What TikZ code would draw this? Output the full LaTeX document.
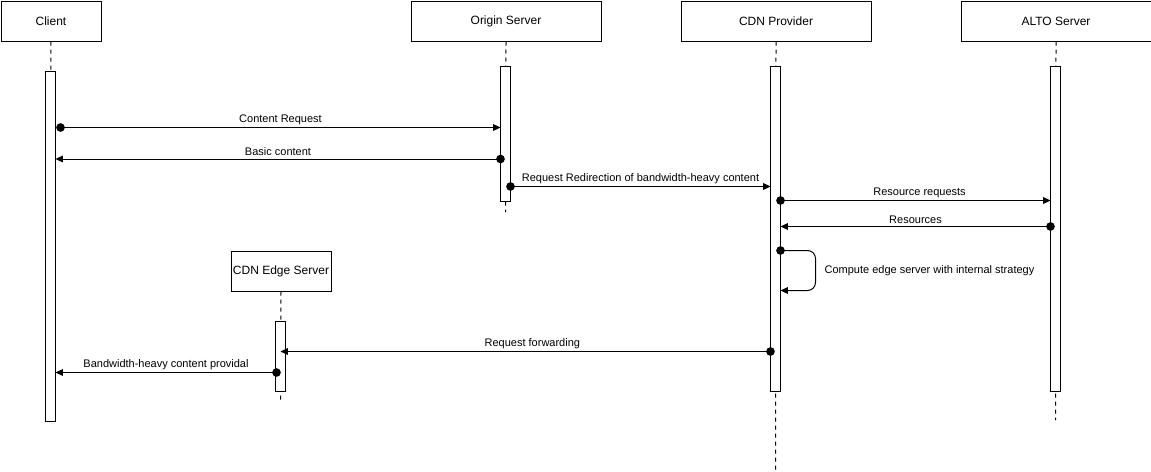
\documentclass[tikz,border=0pt]{standalone}
\usepackage{fontspec}
\setmainfont{Liberation Sans}
\usetikzlibrary{arrows.meta}
\begin{document}
\begin{tikzpicture}[x=0.75pt,y=-0.75pt,
  actor/.style={draw,line width=0.75pt,minimum width=#1*0.75pt,minimum height=30pt,inner sep=0pt,font=\fontsize{9}{10}\selectfont},
  bar/.style={draw,fill=white,line width=0.75pt,inner sep=0pt,minimum width=7.5pt},
  life/.style={line width=0.75pt,dash pattern=on 3pt off 3pt},
  msg/.style={line width=0.75pt,-{Triangle[length=5.5pt,width=5pt]}},
  dotn/.style={circle,fill,inner sep=0pt,minimum size=6.5pt},
  lbl/.style={font=\fontsize{8.25}{9}\selectfont,inner sep=1pt}]
\useasboundingbox (0,0) rectangle (1151,471);

% participant heads
\node[actor=100,anchor=north west] (client) at (0.5,0.5) {Client};
\node[actor=190,anchor=north west] (origin) at (410.5,0.5) {Origin Server};
\node[actor=190,anchor=north west] (cdn) at (680.5,0.5) {CDN Provider};
\node[actor=190,anchor=north west] (alto) at (960.5,0.5) {ALTO Server};
\node[actor=100,anchor=north west] (edge) at (230.5,250.5) {CDN Edge Server};

% lifelines
\coordinate (clientEnd) at (50.5,420);
\coordinate (originEnd) at (505.5,212);
\coordinate (cdnEnd) at (775.5,471);
\coordinate (altoEnd) at (1055.5,420);
\coordinate (edgeEnd) at (280.5,400);
\draw[life] (client.south) -- (clientEnd);
\draw[life] (origin.south) -- (originEnd);
\draw[life] (cdn.south) -- (cdnEnd);
\draw[life] (alto.south) -- (altoEnd);
\draw[life] (edge.south) -- (edgeEnd);

% activation bars
\node[bar,anchor=north,minimum height=262.5pt] (clientBar) at (50.5,70.5) {};
\node[bar,anchor=north,minimum height=101.25pt] (originBar) at (505.5,65.5) {};
\node[bar,anchor=north,minimum height=243.75pt] (cdnBar) at (775.5,65.5) {};
\node[bar,anchor=north,minimum height=243.75pt] (altoBar) at (1055.5,65.5) {};
\node[bar,anchor=north,minimum height=52.5pt] (edgeBar) at (280.5,320.5) {};

% message start points
\node[dotn] (s1) at (60.5,127.5) {};
\node[dotn] (s2) at (500.5,159) {};
\node[dotn] (s3) at (510.5,186.5) {};
\node[dotn] (s4) at (780.5,200.5) {};
\node[dotn] (s5) at (1050.5,226.5) {};
\node[dotn] (s6) at (780.5,250.5) {};
\node[dotn] (s7) at (770.5,351.5) {};
\node[dotn] (s8) at (276.5,372.5) {};

% message end points
\coordinate (e1) at (500.5,127.5);
\coordinate (e2) at (55.5,159);
\coordinate (e3) at (770.5,186.5);
\coordinate (e4) at (1050.5,200.5);
\coordinate (e5) at (780.5,226.5);
\coordinate (e6) at (780.5,290.5);
\coordinate (e7) at (280.5,351.5);
\coordinate (e8) at (55.5,372.5);

\draw[msg] (s1.center) -- node[lbl,above=1pt] {Content Request} (e1);
\draw[msg] (s2.center) -- node[lbl,above=1pt] {Basic content} (e2);
\draw[msg] (s3.center) -- node[lbl,above=1pt] {Request Redirection of bandwidth-heavy content} (e3);
\draw[msg] (s4.center) -- node[lbl,above=1pt,pos=0.515] {Resource requests} (e4);
\draw[msg] (s5.center) -- node[lbl,above=0.5pt] {Resources} (e5);
\draw[msg,rounded corners=6pt] (s6.center) -- (815.5,250.5) -- (815.5,290.5) -- (e6);
\node[lbl,anchor=west] (selfLbl) at (823,271) {Compute edge server with internal strategy};
\draw[msg] (s7.center) -- node[lbl,above=1pt,pos=0.486] {Request forwarding} (e7);
\draw[msg] (s8.center) -- node[lbl,above=1pt] {Bandwidth-heavy content providal} (e8);
\end{tikzpicture}
\end{document}
